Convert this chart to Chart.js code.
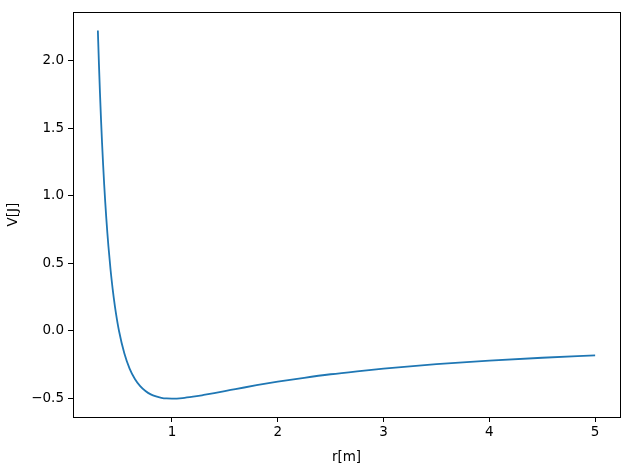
<!DOCTYPE html>
<html>
<head>
<meta charset="utf-8">
<script src="https://cdn.jsdelivr.net/npm/chart.js@4"></script>
<style>
  html, body { margin: 0; padding: 0; background: #fff; }
  #wrap { width: 630px; height: 470px; }
</style>
</head>
<body>
<div id="wrap"><canvas id="myChart" width="630" height="470"></canvas></div>
<script>
// values
const rValues = [0.30, 0.31, 0.32, 0.33, 0.34, 0.35, 0.36, 0.37, 0.38, 0.39, 0.40, 0.42, 0.44, 0.45, 0.47,
  0.50, 0.55, 0.60, 0.65, 0.70, 0.75, 0.80, 0.85, 0.90, 0.95, 1.00, 1.10, 1.20, 1.30, 1.40, 1.50,
  1.60, 1.80, 2.00, 2.25, 2.50, 2.75, 3.00, 3.50, 4.00, 4.50, 5.00];
const vValues = [2.222, 1.977, 1.758, 1.561, 1.384, 1.225, 1.080, 0.949, 0.831, 0.723, 0.625, 0.453, 0.310, 0.247, 0.136,
  0.000, -0.165, -0.278, -0.355, -0.408, -0.444, -0.469, -0.484, -0.494, -0.499, -0.500, -0.496, -0.486, -0.473, -0.459, -0.444,
  -0.430, -0.401, -0.375, -0.346, -0.320, -0.298, -0.278, -0.245, -0.219, -0.198, -0.180];
const xTicks = [1, 2, 3, 4, 5];
const yTicks = [-0.5, 0.0, 0.5, 1.0, 1.5, 2.0];

const ctx = document.getElementById('myChart');
const font = { family: 'DejaVu Sans', size: 13.5 };

// top and right spines
const frame = {
  id: 'frame',
  afterDraw(chart) {
    const a = chart.chartArea, c = chart.ctx;
    c.save();
    c.strokeStyle = '#000';
    c.lineWidth = 1;
    c.strokeRect(Math.round(a.left) + 0.5, Math.round(a.top) + 0.5,
      Math.round(a.right - a.left), Math.round(a.bottom - a.top));
    c.restore();
  }
};

const myChart = new Chart(ctx, {
  type: 'line',
  data: {
    datasets: [{
      label: 'V',
      data: rValues.map((r, i) => ({ x: r, y: vValues[i] })),
      borderColor: '#1f77b4',
      borderWidth: 1.8,
      pointRadius: 0,
      fill: false,
      cubicInterpolationMode: 'monotone'
    }]
  },
  plugins: [frame],
  options: {
    responsive: false,
    animation: false,
    layout: { padding: { top: 10, right: 10, left: 0, bottom: 0 } },
    plugins: { legend: { display: false }, tooltip: { enabled: false } },
    scales: {
      x: {
        type: 'linear',
        min: 0.065,
        max: 5.235,
        afterBuildTicks: s => { s.ticks = xTicks.map(v => ({ value: v })); },
        afterFit: s => { s.height = 53; },
        grid: { drawOnChartArea: false, tickLength: 5, color: '#000' },
        border: { display: true, color: '#000' },
        ticks: { color: '#000', font: font, padding: 2, maxRotation: 0,
          callback: v => String(v) },
        title: { display: true, text: 'r[m]', color: '#000', font: font, padding: { top: 0 } }
      },
      y: {
        type: 'linear',
        min: -0.636,
        max: 2.358,
        afterBuildTicks: s => { s.ticks = yTicks.map(v => ({ value: v })); },
        afterFit: s => { s.width = 73; },
        grid: { drawOnChartArea: false, tickLength: 5, color: '#000' },
        border: { display: true, color: '#000' },
        ticks: { color: '#000', font: font, padding: 4,
          callback: v => v.toFixed(1).replace('-', '\u2212') },
        title: { display: true, text: 'V[J]', color: '#000', font: font, padding: { top: 5, bottom: 4 } }
      }
    }
  }
});
</script>
</body>
</html>
